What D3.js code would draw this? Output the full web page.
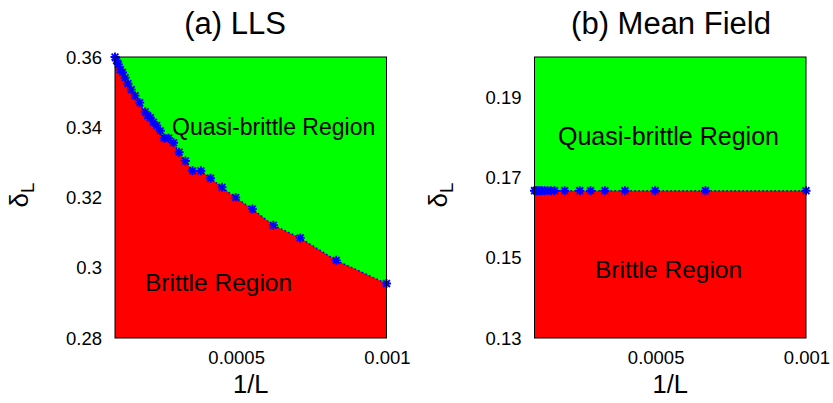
<!DOCTYPE html>
<html>
<head>
<meta charset="utf-8">
<script src="https://cdn.jsdelivr.net/npm/d3@7"></script>
<style>
  body { margin: 0; background: #fff; }
  svg { display: block; }
  text { font-family: "Liberation Sans", Arial, Helvetica, sans-serif; fill: #000; }
</style>
</head>
<body>
<svg id="chart" width="833" height="403"></svg>
<script>
// System sizes L and the critical delta_L separating the two regimes (LLS)
const llsSizes = [1000, 1200, 1400, 1600, 1800, 2000, 2200, 2400, 2600, 2800, 3000,
                  3200, 3400, 3600, 3800, 4000, 4200, 4400, 4600, 4800, 5000,
                  5500, 6000, 6500, 7000, 7500, 8000, 8500, 9000, 9500, 10000];
const llsDelta = [0.2955, 0.3021, 0.3085, 0.3121, 0.3167, 0.3200, 0.3229, 0.3255, 0.3276, 0.3276, 0.3304,
                  0.3329, 0.3356, 0.3369, 0.3369, 0.3390, 0.3405, 0.3414, 0.3427, 0.3433, 0.3444,
                  0.3470, 0.3490, 0.3507, 0.3524, 0.3541, 0.3556, 0.3564, 0.3579, 0.3590, 0.3600];

// Mean-field boundary
const mfSizes = [1000, 1500, 2000, 2500, 3000, 3500, 4000, 5000, 6000, 6500,
                 7000, 7500, 8000, 8500, 9000, 9500, 10000];
const mfDelta = [0.1667, 0.1667, 0.1667, 0.1667, 0.1667, 0.1667, 0.1667, 0.1667, 0.1667, 0.1667,
                 0.1667, 0.1667, 0.1667, 0.1667, 0.1667, 0.1667, 0.1667];

// Axes
const xDomain = [0.0001, 0.001];
const xTicks = [0.0005, 0.001];
const xTickLabels = ["0.0005", "0.001"];
const llsYDomain = [0.28, 0.36];
const llsYTicks = [0.28, 0.30, 0.32, 0.34, 0.36];
const llsYTickLabels = ["0.28", "0.3", "0.32", "0.34", "0.36"];
const mfYDomain = [0.13, 0.20];
const mfYTicks = [0.13, 0.15, 0.17, 0.19];
const mfYTickLabels = ["0.13", "0.15", "0.17", "0.19"];

const svg = d3.select("#chart");

const panels = [
  {
    title: "(a) LLS", titleX: 235,
    box: { left: 115, right: 386.5, top: 57, bottom: 338 },
    sizes: llsSizes, delta: llsDelta,
    yDomain: llsYDomain, yTicks: llsYTicks, yTickLabels: llsYTickLabels,
    ylabelX: 28,
    quasi: { x: 172, y: 135, size: 23 }, brittle: { x: 145, y: 291, size: 24.5 }
  },
  {
    title: "(b) Mean Field", titleX: 671,
    box: { left: 534.5, right: 806, top: 57, bottom: 338 },
    sizes: mfSizes, delta: mfDelta,
    yDomain: mfYDomain, yTicks: mfYTicks, yTickLabels: mfYTickLabels,
    ylabelX: 447,
    quasi: { x: 558, y: 145, size: 25 }, brittle: { x: 595, y: 278, size: 24.5 }
  }
];

const star = "M-4.5,0H4.5M0,-4.5V4.5M-3.4,-3.4L3.4,3.4M-3.4,3.4L3.4,-3.4";

panels.forEach((p, i) => {
  const b = p.box;
  const x = d3.scaleLinear().domain(xDomain).range([b.left, b.right]);
  const y = d3.scaleLinear().domain(p.yDomain).range([b.bottom, b.top]);
  const pts = p.sizes.map((L, k) => ({ v: 1 / L, d: p.delta[k] }))
                     .sort((a, c) => a.v - c.v);

  const clipId = "clip" + i;
  svg.append("clipPath").attr("id", clipId)
    .append("rect").attr("x", b.left).attr("y", b.top)
    .attr("width", b.right - b.left).attr("height", b.bottom - b.top);

  const g = svg.append("g");
  const plot = g.append("g").attr("clip-path", `url(#${clipId})`);

  // quasi-brittle (above) fills the whole frame, brittle area below the boundary
  plot.append("rect").attr("x", b.left).attr("y", b.top)
    .attr("width", b.right - b.left).attr("height", b.bottom - b.top)
    .attr("fill", "#00ff00");

  const area = d3.area()
    .x(d => x(d.v))
    .y0(y(p.yDomain[0]))
    .y1(d => y(d.d));
  plot.append("path").datum(pts).attr("d", area).attr("fill", "#ff0000");

  // boundary: dotted line with star markers
  const line = d3.line().x(d => x(d.v)).y(d => y(d.d));
  g.append("path").datum(pts).attr("d", line)
    .attr("fill", "none").attr("stroke", "#0000ff")
    .attr("stroke-width", 1.5).attr("stroke-dasharray", "1.5,2.5");
  g.selectAll(null).data(pts).enter().append("path")
    .attr("transform", d => `translate(${x(d.v)},${y(d.d)})`)
    .attr("d", star).attr("fill", "none")
    .attr("stroke", "#0000ff").attr("stroke-width", 1.9);

  // frame
  g.append("rect").attr("x", b.left).attr("y", b.top)
    .attr("width", b.right - b.left).attr("height", b.bottom - b.top)
    .attr("fill", "none").attr("stroke", "#000").attr("stroke-width", 1);

  // y tick labels
  g.selectAll(null).data(p.yTicks).enter().append("text")
    .attr("x", b.left - 13).attr("y", d => y(d) + 6.5)
    .attr("text-anchor", "end").attr("font-size", 18.5)
    .text((d, k) => p.yTickLabels[k]);

  // x tick labels
  g.selectAll(null).data(xTicks).enter().append("text")
    .attr("x", d => x(d) + 1).attr("y", 364)
    .attr("text-anchor", "middle").attr("font-size", 18.5)
    .text((d, k) => xTickLabels[k]);

  // axis titles
  g.append("text").attr("x", (b.left + b.right) / 2).attr("y", 393)
    .attr("text-anchor", "middle").attr("font-size", 25.5).text("1/L");

  const yl = g.append("text")
    .attr("transform", `translate(${p.ylabelX},195) rotate(-90)`)
    .attr("text-anchor", "middle").attr("font-size", 26);
  yl.append("tspan").text("δ");
  yl.append("tspan").attr("font-size", 18.5).attr("dy", 6).text("L");

  // panel title
  g.append("text").attr("x", p.titleX).attr("y", 34)
    .attr("text-anchor", "middle").attr("font-size", 31).text(p.title);

  // region labels
  g.append("text").attr("x", p.quasi.x).attr("y", p.quasi.y)
    .attr("font-size", p.quasi.size).text("Quasi-brittle Region");
  g.append("text").attr("x", p.brittle.x).attr("y", p.brittle.y)
    .attr("font-size", p.brittle.size).text("Brittle Region");
});
</script>
</body>
</html>
